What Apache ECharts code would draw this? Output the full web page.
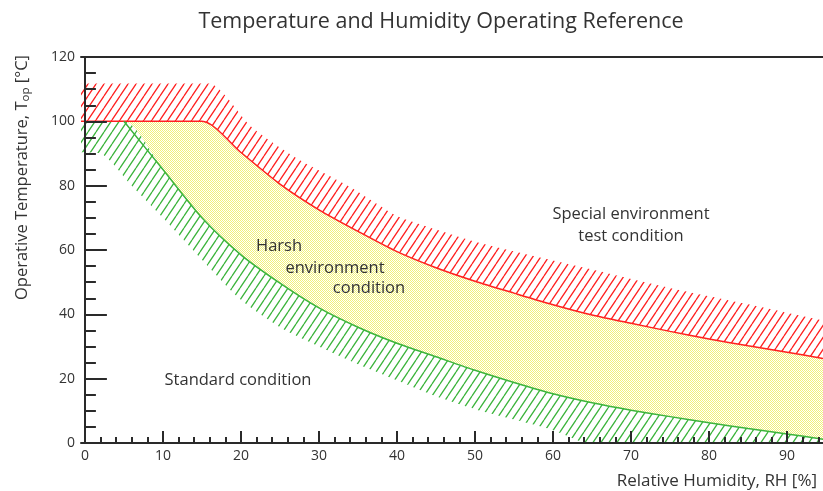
<!DOCTYPE html>
<html>
<head>
  <meta charset="utf-8">
  <title>Temperature and Humidity Operating Reference</title>
  <script src="https://cdn.jsdelivr.net/npm/echarts@6/dist/echarts.min.js"></script>
</head>
<body style="margin:0">
  <div id="main" style="width:823px;height:491px;"></div>
  <script type="text/javascript">
    // [RH %, T °C] points
    var redTop = [[-0.5, 111.8], [16, 111.8], [18, 108], [21, 99], [24, 93.5], [27.5, 88], [31, 83.5], [34, 79.6], [37, 75],
      [40, 70.6], [45, 66.4], [50, 62.6], [55, 59.6], [60, 56.7], [65, 53.9], [70, 51], [75, 48.2], [80, 45.6], [85, 43.1], [90, 40.5], [94.6, 38.1]];
    var redLine = [[-0.5, 100], [15, 100], [20, 90.3], [25, 80.5], [30, 72.5], [35, 65.8], [40, 59.5], [45, 54.5], [50, 50.3],
      [55, 46.6], [60, 43], [65, 39.8], [70, 37.2], [75, 34.7], [80, 32.3], [85, 30.2], [90, 28.2], [94.6, 26.3]];
    var greenLine = [[5, 100], [10, 85], [15, 70], [20, 58.5], [25, 49.7], [30, 42], [35, 36], [40, 31], [45, 26.8], [50, 22.6],
      [55, 18.8], [60, 15.3], [65, 12.5], [70, 10.2], [75, 8.2], [80, 6.3], [85, 4.5], [90, 2.8], [94.6, 1.2]];
    var greenBottom = [[-0.5, 90.4], [2, 90], [6, 80], [10, 70], [15, 57], [20, 44.5], [25, 36], [30, 30], [35, 24.5],
      [40, 19.5], [45, 14.5], [50, 10.5], [55, 7.3], [60, 4], [64, 0]];
    var xMajor = [0, 10, 20, 30, 40, 50, 60, 70, 80, 90];

    var xMinor = [];
    for (var v = 2; v < 95; v += 2) { if (v % 10 !== 0) xMinor.push(v); }

    var FONT = '"Open Sans", "Noto Sans", sans-serif';
    var RED = '#ff2020', GREEN = '#3cb43c', INK = '#2a2a2a';

    // hatch / dot fills
    function hatch(color, bg) {
      var w = 8, h = 12;
      var c = document.createElement('canvas');
      c.width = w; c.height = h;
      var g = c.getContext('2d');
      if (bg) { g.fillStyle = bg; g.fillRect(0, 0, w, h); }
      g.strokeStyle = color; g.lineWidth = 1.3;
      g.beginPath();
      g.moveTo(0, h); g.lineTo(w, 0);
      g.moveTo(-w, h); g.lineTo(0, 0);
      g.moveTo(w, h); g.lineTo(2 * w, 0);
      g.stroke();
      return { image: c, repeat: 'repeat' };
    }
    function dots() {
      var c = document.createElement('canvas');
      c.width = 2; c.height = 2;
      var g = c.getContext('2d');
      g.fillStyle = '#ffffff'; g.fillRect(0, 0, 2, 2);
      g.fillStyle = '#f2f27a';
      g.fillRect(0, 0, 1, 1); g.fillRect(1, 1, 1, 1);
      return { image: c, repeat: 'repeat' };
    }

    function area(data, fill) {
      return {
        type: 'line', data: data, symbol: 'none', silent: true, smooth: 0.25,
        lineStyle: { width: 0, opacity: 0 },
        areaStyle: { color: fill, opacity: 1, origin: 'start' }
      };
    }
    function stroke(data, color) {
      return {
        type: 'line', data: data, symbol: 'none', silent: true, smooth: 0.25,
        lineStyle: { width: 1.5, color: color }
      };
    }
    function note(text, x, y) {
      return { type: 'text', x: x, y: y, z: 20,
        style: { text: text, align: 'center', verticalAlign: 'middle', lineHeight: 22, fill: '#333', fontSize: 16.5, fontFamily: FONT } };
    }

    var myChart = echarts.init(document.getElementById('main'));
    myChart.setOption({
      animation: false,
      grid: { left: 81, right: 0, top: 57, bottom: 48 },
      xAxis: [{
        type: 'value', min: -0.5, max: 94.6, z: 10,
        splitLine: { show: false },
        axisLine: { lineStyle: { color: INK, width: 2 } },
        axisTick: { inside: true, length: 12, customValues: xMajor, lineStyle: { color: INK, width: 2 } },
        axisLabel: { customValues: xMajor, color: '#333', fontSize: 14, fontFamily: FONT, margin: 6 }
      }, {
        type: 'value', min: -0.5, max: 94.6, position: 'bottom', z: 10,
        splitLine: { show: false },
        axisLine: { show: false },
        axisTick: { inside: true, length: 6, customValues: xMinor, lineStyle: { color: INK, width: 2 } },
        axisLabel: { show: false }
      }, {
        type: 'value', min: -0.5, max: 94.6, position: 'top', z: 10,
        splitLine: { show: false },
        axisLine: { lineStyle: { color: INK, width: 2 } },
        axisTick: { show: false },
        axisLabel: { show: false }
      }],
      yAxis: {
        type: 'value', min: 0, max: 120, interval: 20, z: 10,
        splitLine: { show: false },
        axisLine: { show: true, lineStyle: { color: INK, width: 2 } },
        axisTick: { inside: true, length: 22, lineStyle: { color: INK, width: 2 } },
        minorTick: { show: true, splitNumber: 4, length: 11, lineStyle: { color: INK, width: 2 } },
        axisLabel: { color: '#333', fontSize: 14, fontFamily: FONT, margin: 6 }
      },
      series: [
        area(redTop, hatch(RED, null)),
        area(redLine, dots()),
        area([[-0.5, 100]].concat(greenLine), hatch(GREEN, '#ffffff')),
        area(greenBottom, '#ffffff'),
        stroke(redLine, RED),
        stroke(greenLine, GREEN)
      ],
      graphic: [
        { type: 'text', x: 441, y: 22, z: 20,
          style: { text: 'Temperature and Humidity Operating Reference', align: 'center', verticalAlign: 'middle', fill: '#333', fontSize: 21.5, fontFamily: FONT } },
        { type: 'text', x: 22, y: 55, rotation: Math.PI / 2, z: 20,
          style: {
            text: '{a|Operative Temperature, T}{s|op}{a| [°C]}', align: 'right', verticalAlign: 'middle',
            rich: {
              a: { fontSize: 16.5, fontFamily: FONT, fill: '#333' },
              s: { fontSize: 11.5, fontFamily: FONT, fill: '#333', padding: [8, 0, 0, 0] }
            }
          } },
        { type: 'text', x: 817, y: 481, z: 20,
          style: { text: 'Relative Humidity, RH [%]', align: 'right', verticalAlign: 'middle', fill: '#333', fontSize: 17, fontFamily: FONT } },
        note('Standard condition', 238, 380),
        note('Harsh', 279, 246),
        note('environment', 335, 268),
        note('condition', 369, 288),
        note('Special environment\ntest condition', 631, 225)
      ]
    });
  </script>
</body>
</html>
